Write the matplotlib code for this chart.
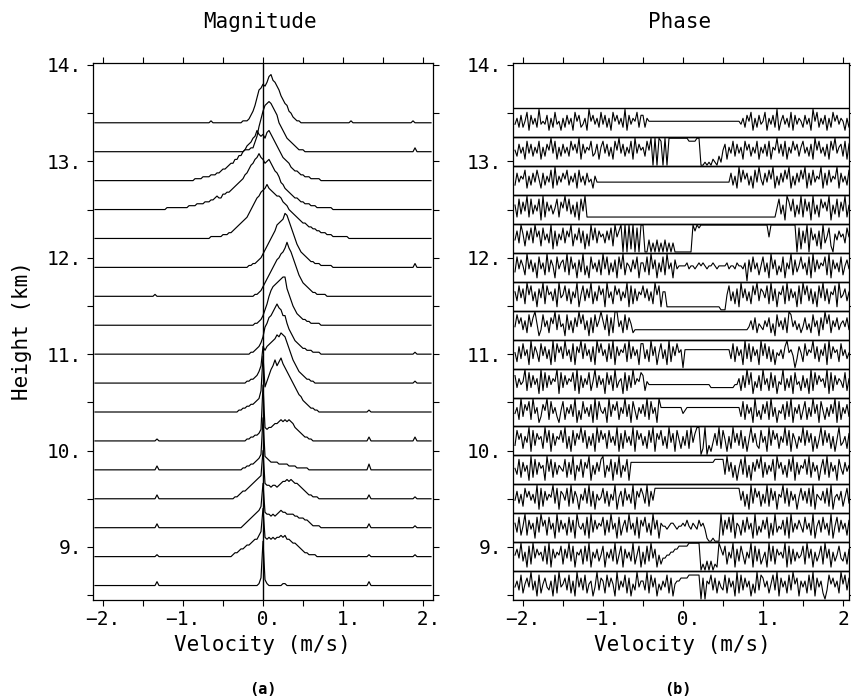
import numpy as np
import matplotlib
matplotlib.use("Agg")
import matplotlib.pyplot as plt

plt.rcParams['font.family'] = ['DejaVu Sans Mono', 'DejaVu Sans']

# ---------------- data ----------------
heights = [8.6, 8.9, 9.2, 9.5, 9.8, 10.1, 10.4, 10.7, 11.0, 11.3, 11.6, 11.9,
           12.2, 12.5, 12.8, 13.1, 13.4]

# each row: 10 groups of samples, group start velocities below, step 0.025 m/s
group_starts = [-2.1, -2.0, -1.5, -1.0, -0.5, 0.0, 0.5, 1.0, 1.5, 2.0]
v_step = 0.025
mag_unit = 0.02        # km of plot height per magnitude code step
phase_span = 0.28      # km of plot height covered by phase codes 0..9

# magnitude codes (base 36, '1' = baseline)
magnitude_rows = [
    "1111 11111111111111111111 11111113111111111111 11111111111111111111 11111111111111111125 o4211111112211111111 11111111111111111111 11111111111113111111 11111111111111111111 11111",
    "1111 11111111111111111111 11111112111111111111 11111111111111111111 1111123345567789aace qbabababbcbcaa988765 43322221111111111111 11111111111112111111 11111111111111112111 11111",
    "1111 11111111111111111111 11111113111111111111 11111111111111111111 111111111123456789ac o98878789a9988887766 65543222211111111111 11111111111113111111 11111111111111112111 11111",
    "1111 11111111111111111111 11111113111111111111 11111111111111111111 1111112234556789abcd q988788789aababa9987 65433222111111111111 11111111111113111111 11111111111111112111 11111",
    "1111 11111111111111111111 11111113111111111111 11111111111111111111 11111111112233445679 s8765555444443333222 22211111111111111111 11111111111114111111 11111111111111111111 11111",
    "1111 11111111111111111111 11111112111111111111 11111111111111111111 11111111111122334457 u87889aabcbcbcba8765 43322111111111111111 11111111111113111111 11111111111111113111 11111",
    "1111 11111111111111111111 11111111111111111111 11111111111111111111 1111111122334455678c uehknpsprtqomkigeca9 76543322111111111111 11111111111112111111 11111111111111111111 11111",
    "1111 11111111111111111111 11111111111111111111 11111111111111111111 1111111111112233457a kiklmnoqprqpmjgdb976 54332211111111111111 11111111111111111111 11111111111111112111 11111",
    "1111 11111111111111111111 11111111111111111111 11111111111111111111 11111111111111223457 afhklnprpollheca8765 44333222211111111111 11111111111111111111 11111111111111112111 11111",
    "1111 11111111111111111111 11111111111111111111 11111111111111111111 11111111111111112234 69cgjlmnopqqkheb9765 44332222211111111111 11111111111111111111 11111111111111111111 11111",
    "1111 11111111111111111111 11111121111111111111 11111111111111111111 11111111111111112234 68acegiklnoqtqolifca 87654332222211111111 11111111111111111111 11111111111111111111 11111",
    "1111 11111111111111111111 11111111111111111111 11111111111111111111 11111111111112233456 8acegiknopqtspmjgdb9 87654433322222211111 11111111111111111111 11111111111111113111 11111",
    "1111 11111111111111111111 11111111111111111111 11111111111111222222 3334456789abcegikmnp qrtrqponnmkjigfedcba 99877665544433322222 22211111111111111111 11111111111111111111 11111",
    "1111 11111111111111111111 11111111111122222222 22233334444555667877 99aabcdefghjkmoprsus rpqrpnlkifecba987765 54443332222222211111 11111111111111111111 11111111111111111111 11111",
    "1111 11111111111111111111 11111111111111111111 11111122223333444556 7789aacceeghjklnorpo pnqrpnljhfdcba876654 43332222211111111111 11111111111111111111 11111111111111111111 11111",
    "1111 11111111111111111111 11111111111111111111 11111111111111111111 111111111112223369ei mpqrqomkgeca87654322 21111111111111111111 11111111111111111111 11111111111111113111 11111",
    "1111 11111111111111111111 11111111111111111111 11111111111111211111 1111111111222357aeij lkmpqnmkifdba7643221 11111111111111111111 11112111111111111111 11111111111111121111 11111",
]

# phase codes (0 = bottom of box, 9 = top of box)
phase_rows = [
    "4638 25749361825743618294 57382619473825614937 62847519364827153946 63928471536482715667 77788888807065837264 38274619283746152938 74625839174628395716 46283917462038574629 58374",
    "5749 36182947563829174658 27493816572839164735 81647392581746392581 62839471524455667788 88899999902030302197 58264917385264918372 46193827564918273645 82947163582947163584 36275",
    "6382 59274618395728461937 46283719546281937465 82739461825739462817 58362947165545665455 65754654756410010009 27483916527384619253 74816293547281936475 38462915738462915837 46275",
    "4736 28574639182746593817 64829375164839271645 83726491572846391758 63927488888888888888 88888888888888888888 88888888847261938572 63928471659382746158 47382916547382915647 25836",
    "5382 74619283756194827365 48273916482759163748 92648173926481777777 77777777777777777777 77777777777777778888 83947261583926174859 27364819573628491736 58392746158392746185 37462",
    "3857 26491837562948173658 49261837594826371948 57284639172846391857 36284917583629471852 63829479902903147392 85162947382615947328 46193857264938175264 93847162593847261593 46273",
    "4629 37582946137592846315 82647391528463719285 46193758264937185264 73928461966666666666 45666666666666666666 66666666638274619352 74829361547283916472 58263947185263749182 64735",
    "7364 59283746192837465918 37465829173648259374 61847293561827394658 72544444444444444444 44444444444444333333 33333344627394815372 94628371549263718452 73619284756391827465 38264",
    "5273 84619375284736192857 39462817593846271958 46283917465829374618 83629471583619274856 06666666666666666666 66663827461938274619 48372615463795640375 28465937264819375628 46352",
    "4857 36284795138462759384 51836274958361728469 63817299462837523333 33333333333333333333 33333333333333333333 33333333333334637254 36472518463729846352 47352846173958264735 64738",
    "6384 72958361749285637194 58372649158374926385 71946285736491827365 84736295816611111111 11111111111111111110 00583627194736285937 64829371658293746182 95837261849372658194 57364",
    "3847 52947361846293751846 73928461739251846372 94826371849265374816 63829471638294617455 55645545656545565455 55645546554607384625 83619472538164927358 46281937465829174638 25748",
    "4739 62748395728463917264 83759264837162948375 63748295790909190809 90040304030403030000 00000979899999999999 99999999999999999999 99959999999999999081 73908462719358206475 63857",
    "6283 74928364819274635827 59483627184922222222 22222222222222222222 22222222222222222222 22222222222222222222 22222222222222222222 22222225836197482639 28471936285749163827 49263",
    "3746 58263748527364829364 75836472846374526444 44444444444444444444 44444444444444444444 44444444444444444444 44447362948573628495 37485926374859263748 59273846592738465927 46385",
    "5374 62847364826375948263 74638574927465834726 84736285947364829475 63859090980909999999 99988889900101021031 57264837462857364826 47382659473826485736 84637295846372859467 38279",
    "4637 35827463945472638452 63746285734629574638 47362857463927465837 73655555555555555555 55555555555555555555 55555555546375826374 58264739257463827465 37462958364726385746 52637",
]

x_major = [-2, -1, 0, 1, 2]
x_minor = [-1.5, -0.5, 0.5, 1.5]
x_labels_left = ["\u22122.", "\u22121.", " 0.", " 1.", " 2."]
x_labels_right = ["\u22122.", "\u22121.", " 0.", " 1.", "2"]
y_major = [9, 10, 11, 12, 13, 14]
y_minor = [8.5, 9.5, 10.5, 11.5, 12.5, 13.5]
y_labels = ["9.", "10.", "11.", "12.", "13.", "14."]


def decode(row):
    vel, code = [], []
    for start, grp in zip(group_starts, row.split()):
        for j, ch in enumerate(grp):
            vel.append(start + v_step * j)
            code.append(int(ch, 36))
    return np.array(vel), np.array(code, dtype=float)


# ---------------- figure ----------------
W, H = 851, 699
fig = plt.figure(figsize=(W / 100, H / 100), dpi=100)
axL = fig.add_axes([93 / W, 1 - 600 / H, 340 / W, 537 / H])
axR = fig.add_axes([513 / W, 1 - 600 / H, 336 / W, 537 / H])

for ax, xl in ((axL, x_labels_left), (axR, x_labels_right)):
    ax.set_ylim(8.45, 14.02)
    ax.set_xticks(x_major)
    ax.set_xticklabels(xl, fontsize=14)
    ax.set_xticks(x_minor, minor=True)
    ax.set_yticks(y_major)
    ax.set_yticklabels(y_labels, fontsize=14)
    ax.set_yticks(y_minor, minor=True)
    ax.tick_params(which='both', direction='out', length=4, width=0.8,
                   top=True, right=True, labeltop=False, labelright=False,
                   colors='k')
    ax.tick_params(axis='x', which='major', pad=3)
    ax.tick_params(axis='y', which='major', pad=4)
    for sp in ax.spines.values():
        sp.set_linewidth(0.9)

axL.set_xlim(-2.125, 2.125)
axR.set_xlim(-2.125, 2.075)

# magnitude
axL.axvline(0, color='k', lw=1.0)
for h, row in zip(heights, magnitude_rows):
    v, c = decode(row)
    axL.plot(v, h + mag_unit * (c - 1), color='k', lw=0.85)

# phase
for h in heights:
    axR.axhline(h - 0.15, color='k', lw=1.0)
    axR.axhline(h + 0.15, color='k', lw=1.0)
for h, row in zip(heights, phase_rows):
    v, c = decode(row)
    axR.plot(v, h - phase_span / 2 + phase_span * c / 9.0, color='k', lw=0.8)

# texts
fig.text(260 / W, 1 - 22 / H, "Magnitude", ha='center', va='center', fontsize=15)
fig.text(680 / W, 1 - 22 / H, "Phase", ha='center', va='center', fontsize=15)
fig.text(262 / W, 1 - 645 / H, "Velocity (m/s)", ha='center', va='center', fontsize=15)
fig.text(682 / W, 1 - 645 / H, "Velocity (m/s)", ha='center', va='center', fontsize=15)
fig.text(22 / W, 1 - 331 / H, "Height (km)", ha='center', va='center',
         rotation=90, fontsize=15)
fig.text(263 / W, 1 - 690 / H, "(a)", ha='center', va='center', fontsize=11,
         fontweight='bold')
fig.text(678 / W, 1 - 690 / H, "(b)", ha='center', va='center', fontsize=11,
         fontweight='bold')

fig.savefig("out.png", dpi=100)
